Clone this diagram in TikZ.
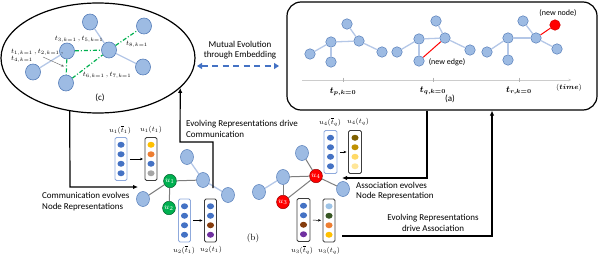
\documentclass[tikz,border=0pt]{standalone}
\usepackage{amsmath}
\usepackage{fontspec}
\setsansfont{Carlito}
\usetikzlibrary{arrows.meta,shapes.geometric,calc}
\definecolor{nfill}{RGB}{157,187,227}
\definecolor{ndraw}{RGB}{84,124,184}
\definecolor{ledgec}{RGB}{180,199,231}
\definecolor{gedgec}{RGB}{125,125,125}
\definecolor{dgreen}{RGB}{0,176,80}
\definecolor{dblue}{RGB}{68,114,196}
\definecolor{dyellow}{RGB}{255,192,0}
\definecolor{dorange}{RGB}{237,125,49}
\definecolor{dgray}{RGB}{165,165,165}
\definecolor{dbrown}{RGB}{133,60,12}
\definecolor{dpurple}{RGB}{112,48,160}
\definecolor{gold1}{RGB}{127,96,0}
\definecolor{gold2}{RGB}{191,144,0}
\definecolor{gold3}{RGB}{255,217,102}
\definecolor{gold4}{RGB}{255,230,153}
\definecolor{dlblue}{RGB}{157,195,230}
\definecolor{dkgreen}{RGB}{55,86,35}
\definecolor{boxblue}{RGB}{143,170,220}
\definecolor{boxdark}{RGB}{60,60,60}
\newcommand{\vecbox}[5]{%
  \node[#3, minimum width=#4] (#1) at #2 {};
  \foreach \c [count=\i] in {#5}
    \node[vdot, fill=\c] (#1d\i) at ($(#1.center)+(0,{(\i-2.5)*9.5})$) {};
}
\begin{document}
\begin{tikzpicture}[x=1pt,y=-1pt,
  every node/.style={inner sep=0pt},
  cnode/.style={ellipse, fill=nfill, draw=ndraw, line width=0.6pt, minimum width=15, minimum height=16},
  anode/.style={circle, fill=nfill, draw=ndraw, line width=0.5pt, minimum size=10.5},
  bnode/.style={ellipse, fill=nfill, draw=ndraw, line width=0.5pt, minimum width=13, minimum height=15},
  gnode/.style={ellipse, fill=dgreen, draw=dgreen!55!black, line width=0.5pt, text=white, minimum width=12.5, minimum height=13.5, font=\footnotesize},
  rnode/.style={ellipse, fill=red, draw=red!60!black, line width=0.5pt, text=white, minimum width=12.5, minimum height=13.5, font=\footnotesize},
  ledge/.style={draw=ledgec, line width=1.3pt},
  gedge/.style={draw=gedgec, line width=1pt},
  gdash/.style={draw=dgreen, line width=1.2pt, dash pattern=on 4pt off 2pt on 1pt off 2pt},
  arr/.style={draw=black, line width=1.2pt, -{Latex[length=5pt,width=4.5pt]}},
  sarr/.style={draw=black, line width=0.5pt, -{Stealth[length=3pt,width=2.5pt]}, shorten <=2.5pt, shorten >=1.5pt},
  lab/.style={font=\sffamily\fontsize{9}{10.5}\selectfont},
  ml/.style={font=\scriptsize},
  ul/.style={font=\scriptsize},
  lbox/.style={draw=boxblue, line width=0.9pt, rounded corners=1.5pt, minimum height=43},
  dbox/.style={draw=boxdark, line width=0.9pt, rounded corners=1.5pt, minimum height=43},
  vdot/.style={ellipse, minimum width=7, minimum height=6, draw=none}
]
\useasboundingbox (0,0) rectangle (605,257);

% ---------- (c) ----------
\node[ellipse, draw, line width=1.2pt, minimum width=194, minimum height=110] (ellc) at (98,58) {};
\node[cnode] (c1) at (90,22) {};
\node[cnode] (c2) at (144,26) {};
\node[cnode] (c3) at (67,51) {};
\node[cnode] (c4) at (109,50) {};
\node[cnode] (c5) at (33,72) {};
\node[cnode] (c6) at (66,83) {};
\node[cnode] (c7) at (143,67) {};
\draw[ledge] (c1) -- (c4);
\draw[ledge] (c4) -- (c7);
\draw[ledge] (c3) -- (c5);
\draw[gdash] (c3) -- (c4);
\draw[gdash] (c4) -- (c2);
\draw[gdash] (c3) -- (c6);
\draw[gdash] (c6) -- (c4);
\node[ml] (lt35) at (79,39) {$t_{3,k=1}\,,t_{5,k=1}$};
\node[ml, align=left, anchor=west] (lt124) at (11,56) {$t_{1,k=1}\,,t_{2,k=1}\,,$\\[-1.5pt]$t_{4,k=1}$};
\node[ml] (lt8) at (137,44) {$t_{8,k=1}$};
\node[ml] (lt67) at (107,75) {$t_{6,k=1}\,,t_{7,k=1}$};
\coordinate (sa1) at (43,57);
\coordinate (sa2) at (64,66.5);
\draw[draw=gray!80!black, line width=0.4pt, -{Stealth[length=3pt,width=2.5pt]}] (sa1) -- (sa2);
\node[font=\sffamily\fontsize{9}{10}\selectfont] (lc) at (100,98) {(c)};

% ---------- mutual evolution ----------
\node[lab, align=center] (mut) at (240,50) {Mutual Evolution\\through Embedding};
\coordinate (m1) at (197,66);
\coordinate (m2) at (279,66);
\draw[draw=dblue, line width=1.8pt, dash pattern=on 6pt off 4.5pt, {Triangle[length=5pt,width=6pt]}-{Triangle[length=5pt,width=6pt]}] (m1) -- (m2);

% ---------- (a) ----------
\node[draw, rounded corners=14pt, line width=1.2pt, minimum width=310, minimum height=108] (recta) at (442,56) {};
\node[anode] (a1) at (310,54) {};
\node[anode] (a2) at (331,42) {};
\node[anode] (a3) at (331,62) {};
\node[anode] (a4) at (347,24) {};
\node[anode] (a5) at (359,41) {};
\node[anode] (a6) at (382,52) {};
\draw[ledge] (a1) -- (a2); \draw[ledge] (a2) -- (a3); \draw[ledge] (a2) -- (a5);
\draw[ledge] (a5) -- (a4); \draw[ledge] (a5) -- (a6);
\node[anode] (a7) at (397,52) {};
\node[anode] (a8) at (419,39) {};
\node[anode] (a9) at (419,61) {};
\node[anode] (a10) at (436,21) {};
\node[anode] (a11) at (445,38) {};
\node[anode] (a12) at (470,50) {};
\draw[ledge] (a7) -- (a8); \draw[ledge] (a8) -- (a9); \draw[ledge] (a8) -- (a11);
\draw[ledge] (a11) -- (a10); \draw[ledge] (a11) -- (a12);
\draw[draw=red, line width=1pt] (a9) -- (a11);
\node[anode] (a13) at (487,52) {};
\node[anode] (a14) at (508,38) {};
\node[anode] (a15) at (508,60) {};
\node[anode] (a16) at (523,21) {};
\node[anode] (a17) at (536,38) {};
\node[anode] (a18) at (557,49) {};
\node[circle, fill=red, draw=red!80!black, line width=0.5pt, minimum size=10.5] (ared) at (555,25) {};
\draw[ledge] (a13) -- (a14); \draw[ledge] (a14) -- (a15); \draw[ledge] (a14) -- (a17);
\draw[ledge] (a17) -- (a16); \draw[ledge] (a17) -- (a18);
\draw[draw=red, line width=1pt] (a17) -- (ared);
\node[font=\sffamily\fontsize{8}{9}\selectfont] (newedge) at (447,62) {(new edge)};
\node[font=\sffamily\fontsize{8}{9}\selectfont] (newnode) at (558,13) {(new node)};
% timeline
\coordinate (tl1) at (302,80);
\coordinate (tl2) at (571,80);
\draw[draw=gray!40, line width=0.6pt, -{Stealth[length=2.5pt,width=2.5pt]}] (tl1) -- (tl2);
\foreach \xx/\nm in {343/p,433/q,519/r} {
  \coordinate (tk\nm) at (\xx,80);
  \draw[draw=gray!60, line width=0.5pt] ($(tk\nm)+(0,-2.5)$) -- ($(tk\nm)+(0,1.5)$);
}
\node[font=\small] (tp) at (343,91.5) {$\boldsymbol{t_{p,k=0}}$};
\node[font=\small] (tq) at (433,91) {$\boldsymbol{t_{q,k=0}}$};
\node[font=\small] (tr) at (519,90.5) {$\boldsymbol{t_{r,k=0}}$};
\node[font=\scriptsize] (time) at (569,88) {$(\boldsymbol{time})$};
\node[font=\sffamily\fontsize{9}{10}\selectfont] (la) at (450,99) {(a)};

% ---------- (b) left graph ----------
\node[gnode] (u1) at (170,181) {$u_1$};
\node[gnode] (u2) at (169,208) {$u_2$};
\node[bnode] (l3) at (143,199) {};
\node[bnode] (l4) at (187,157) {};
\node[bnode] (l5) at (203,180) {};
\node[bnode] (l6) at (228,195) {};
\draw[gedge] (l3) -- (u1); \draw[gedge] (u1) -- (u2); \draw[gedge] (u1) -- (l5);
\draw[ledge] (l4) -- (l5); \draw[ledge] (l5) -- (l6);

% ---------- (b) right graph ----------
\node[bnode] (r1) at (302,153) {};
\node[bnode] (r2) at (259,192) {};
\node[bnode] (r3) at (283,177) {};
\node[rnode] (u4) at (316,176) {$u_4$};
\node[rnode] (u3) at (283,202) {$u_3$};
\node[bnode] (r6) at (343,189) {};
\draw[ledge] (r2) -- (r3);
\draw[gedge] (r1) -- (u4); \draw[gedge] (r3) -- (u4); \draw[gedge] (r3) -- (u3);
\draw[gedge] (u3) -- (u4); \draw[gedge] (u4) -- (r6);

% ---------- vectors ----------
\vecbox{B1}{(121,159)}{lbox}{12}{dblue,dblue,dblue,dblue}
\vecbox{B2}{(151,159)}{dbox}{12}{dyellow,dorange,dblue,dgray}
\vecbox{B3}{(184.5,220.5)}{lbox}{12}{dblue,dblue,dblue,dblue}
\vecbox{B4}{(210.5,220.5)}{dbox}{12}{dblue,dblue,dbrown,dpurple}
\vecbox{B5}{(330.5,152)}{lbox}{13}{dblue,dblue,dblue,dblue}
\vecbox{B6}{(355,152)}{dbox}{13}{gold1,gold2,gold3,gold4}
\vecbox{B7}{(303.5,220)}{dbox}{13}{dblue,dblue,dbrown,dpurple}
\vecbox{B8}{(329,220.5)}{dbox}{12}{dlblue,dkgreen,dorange,dyellow}
\draw[sarr] (B1) -- (B2);
\draw[sarr] (B3) -- (B4);
\draw[sarr] (B5) -- (B6);
\draw[sarr] (B7) -- (B8);
\node[ul] (lB1) at (120,130) {$u_1(\overline{t}_1)$};
\node[ul] (lB2) at (151,130) {$u_1(t_1)$};
\node[ul] (lB3) at (184,250) {$u_2(\overline{t}_1)$};
\node[ul] (lB4) at (211,250) {$u_2(t_1)$};
\node[ul] (lB5) at (330,122) {$u_4(\overline{t}_q)$};
\node[ul] (lB6) at (358,122) {$u_4(t_q)$};
\node[ul] (lB7) at (302,250) {$u_3(\overline{t}_q)$};
\node[ul] (lB8) at (329,251) {$u_3(t_q)$};
\node[font=\fontsize{9}{10}\selectfont] (lb) at (253,238) {(b)};

% ---------- connectors ----------
\coordinate (p1) at (70,187);
\coordinate (p1e) at (138,187);
\draw[arr] (ellc.242) -- (p1) -- (p1e);
\node[lab, align=left, anchor=west] (t1) at (42,201.5) {Communication evolves\\Node Representations};

\coordinate (q1) at (213,188);
\coordinate (q2) at (180,142);
\draw[arr] (q1) |- (q2) -- (ellc.340);
\node[lab, align=left, anchor=west] (t2) at (186,129) {Evolving Representations drive\\Communication};

\coordinate (r3c) at (427,178);
\coordinate (r3e) at (342,178);
\draw[arr] (recta.south -| r3c) -- (r3c) -- (r3e);
\node[lab, align=left, anchor=west] (t3) at (356,191) {Association evolves\\Node Representation};

\coordinate (s1) at (342,236);
\coordinate (s2) at (492,236);
\draw[arr] (s1) -- (s2) -- (recta.south -| s2);
\node[lab, align=center] (t4) at (433,223) {Evolving Representations\\drive Association};
\end{tikzpicture}
\end{document}
